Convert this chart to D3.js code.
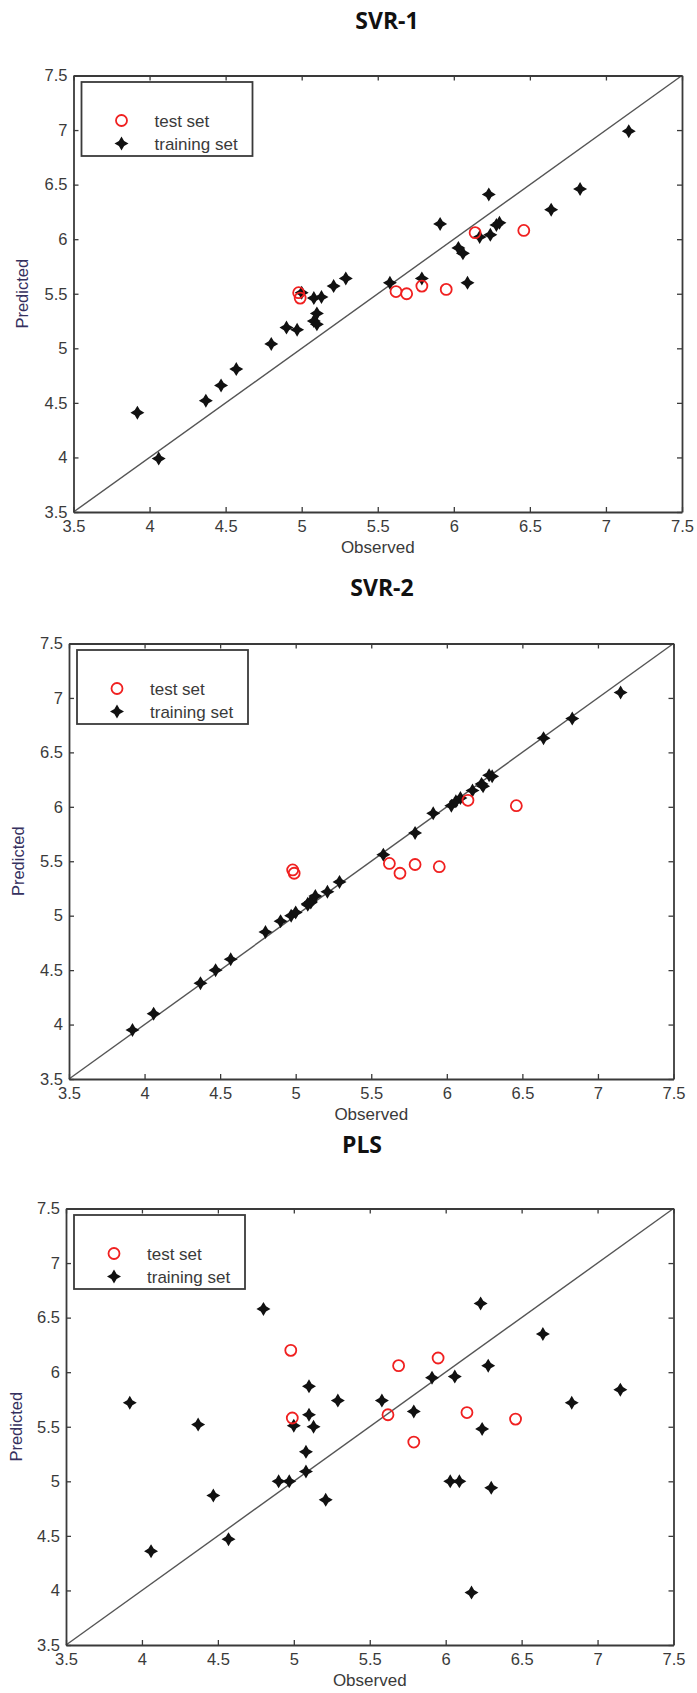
<!DOCTYPE html>
<html>
<head>
<meta charset="utf-8">
<script src="https://cdn.jsdelivr.net/npm/d3@7"></script>
<style>
  body { margin: 0; background: #fff; }
  svg { display: block; }
  .tick text { font-family: "Liberation Sans", Arial, sans-serif; font-size: 16.5px; fill: #3a3a3a; }
</style>
</head>
<body>
<script>
// observed activity of the training compounds (same for all three models)
var trainObserved = [3.92, 4.06, 4.37, 4.47, 4.57, 4.80, 4.90, 4.97, 5.00, 5.08,
                     5.08, 5.10, 5.10, 5.13, 5.21, 5.29, 5.58, 5.79, 5.91, 6.03,
                     6.06, 6.09, 6.17, 6.23, 6.24, 6.28, 6.30, 6.64, 6.83, 7.15];
var svr1TrainPred = [4.41, 3.99, 4.52, 4.66, 4.81, 5.04, 5.19, 5.17, 5.51, 5.46,
                     5.25, 5.32, 5.22, 5.47, 5.57, 5.64, 5.60, 5.64, 6.14, 5.92,
                     5.87, 5.60, 6.02, 6.41, 6.04, 6.13, 6.15, 6.27, 6.46, 6.99];
var svr2TrainPred = [3.95, 4.10, 4.38, 4.50, 4.60, 4.85, 4.95, 5.00, 5.03, 5.10,
                     5.11, 5.13, 5.12, 5.18, 5.22, 5.31, 5.56, 5.76, 5.94, 6.01,
                     6.05, 6.08, 6.15, 6.21, 6.19, 6.29, 6.28, 6.63, 6.81, 7.05];
var plsTrainPred  = [5.72, 4.36, 5.52, 4.87, 4.47, 6.58, 5.00, 5.00, 5.51, 5.27,
                     5.09, 5.61, 5.87, 5.50, 4.83, 5.74, 5.74, 5.64, 5.95, 5.00,
                     5.96, 5.00, 3.98, 6.63, 5.48, 6.06, 4.94, 6.35, 5.72, 5.84];

// test set
var testObserved = [4.98, 4.99, 5.62, 5.69, 5.79, 5.95, 6.14, 6.46];
var svr1TestPred = [5.51, 5.46, 5.52, 5.50, 5.57, 5.54, 6.06, 6.08];
var svr2TestPred = [5.42, 5.39, 5.48, 5.39, 5.47, 5.45, 6.06, 6.01];
var plsTestPred  = [6.20, 5.58, 5.61, 6.06, 5.36, 6.13, 5.63, 5.57];

var panelTitles = ["SVR-1", "SVR-2", "PLS"];
var tickValues = [3.5, 4, 4.5, 5, 5.5, 6, 6.5, 7, 7.5];
var legendLabels = ["test set", "training set"];

var w = 697;
var h = 1693;

// frame of each axes box, in page pixels
var panels = [
    {title: panelTitles[0], train: svr1TrainPred, test: svr1TestPred,
     left: 73.5, right: 682, top: 75.5, bottom: 512, titleX: 387, titleY: 21, ylabX: 22},
    {title: panelTitles[1], train: svr2TrainPred, test: svr2TestPred,
     left: 69, right: 673.5, top: 643.5, bottom: 1079, titleX: 382, titleY: 588, ylabX: 18},
    {title: panelTitles[2], train: plsTrainPred, test: plsTestPred,
     left: 66, right: 673.5, top: 1208.5, bottom: 1645, titleX: 362, titleY: 1145, ylabX: 16}
];

var svg = d3.select("body")
            .append("svg")
            .attr("width", w)
            .attr("height", h);

// four pointed star used for the training set
function starPath(r, k) {
    var pts = [[0, -r], [k, -k], [r, 0], [k, k], [0, r], [-k, k], [-r, 0], [-k, -k]];
    return "M" + pts.map(function(p) { return p.join(","); }).join("L") + "Z";
}
var star = starPath(7, 2.6);
var axisColor = "#3a3a3a";

panels.forEach(function(p) {
    var x = d3.scaleLinear().domain([3.5, 7.5]).range([p.left, p.right]);
    var y = d3.scaleLinear().domain([3.5, 7.5]).range([p.bottom, p.top]);
    var fmt = d3.format("~g");

    // title
    svg.append("text")
        .attr("x", p.titleX)
        .attr("y", p.titleY)
        .attr("dy", "0.36em")
        .attr("text-anchor", "middle")
        .attr("font-family", "'Open Sans', sans-serif")
        .attr("font-weight", "bold")
        .attr("font-size", 23)
        .attr("fill", "#111")
        .text(p.title);

    var g = svg.append("g");

    // y = x line
    g.append("line")
        .attr("x1", x(3.5)).attr("y1", y(3.5))
        .attr("x2", x(7.5)).attr("y2", y(7.5))
        .attr("stroke", "#555")
        .attr("stroke-width", 1.4);

    // axes, matlab style ticks pointing inwards on all sides
    var bottom = g.append("g")
        .attr("transform", "translate(0," + p.bottom + ")")
        .call(d3.axisBottom(x).tickValues(tickValues).tickFormat(fmt)
              .tickSizeInner(-5).tickSizeOuter(0).tickPadding(8));
    var left = g.append("g")
        .attr("transform", "translate(" + p.left + ",0)")
        .call(d3.axisLeft(y).tickValues(tickValues).tickFormat(fmt)
              .tickSizeInner(-5).tickSizeOuter(0).tickPadding(6));
    var top = g.append("g")
        .attr("transform", "translate(0," + p.top + ")")
        .call(d3.axisTop(x).tickValues(tickValues).tickFormat("")
              .tickSizeInner(-5).tickSizeOuter(0));
    var right = g.append("g")
        .attr("transform", "translate(" + p.right + ",0)")
        .call(d3.axisRight(y).tickValues(tickValues).tickFormat("")
              .tickSizeInner(-5).tickSizeOuter(0));

    [bottom, left, top, right].forEach(function(a) {
        a.select(".domain").attr("stroke", axisColor).attr("stroke-width", 1.8);
        a.selectAll(".tick line").attr("stroke", axisColor).attr("stroke-width", 1.3);
    });

    // axis labels
    svg.append("text")
        .attr("x", (p.left + p.right) / 2)
        .attr("y", p.bottom + 35)
        .attr("dy", "0.36em")
        .attr("text-anchor", "middle")
        .attr("font-family", "'Liberation Sans', Arial, sans-serif")
        .attr("font-size", 17)
        .attr("fill", "#3a3a3a")
        .text("Observed");

    svg.append("text")
        .attr("transform", "translate(" + p.ylabX + "," + ((p.top + p.bottom) / 2) + ") rotate(-90)")
        .attr("dy", "0.36em")
        .attr("text-anchor", "middle")
        .attr("font-family", "'Liberation Sans', Arial, sans-serif")
        .attr("font-size", 16.5)
        .attr("fill", "#35305e")
        .text("Predicted");

    // training set
    g.selectAll(".train")
        .data(trainObserved.map(function(o, i) { return [o, p.train[i]]; }))
        .enter()
        .append("path")
        .attr("class", "train")
        .attr("d", star)
        .attr("transform", function(d) { return "translate(" + x(d[0]) + "," + y(d[1]) + ")"; })
        .attr("fill", "#111");

    // test set
    g.selectAll(".test")
        .data(testObserved.map(function(o, i) { return [o, p.test[i]]; }))
        .enter()
        .append("circle")
        .attr("class", "test")
        .attr("cx", function(d) { return x(d[0]); })
        .attr("cy", function(d) { return y(d[1]); })
        .attr("r", 5.5)
        .attr("fill", "none")
        .attr("stroke", "#f02020")
        .attr("stroke-width", 1.8);

    // legend
    var lg = svg.append("g")
        .attr("transform", "translate(" + (p.left + 8) + "," + (p.top + 6.5) + ")");
    lg.append("rect")
        .attr("width", 171)
        .attr("height", 74)
        .attr("fill", "#fff")
        .attr("stroke", axisColor)
        .attr("stroke-width", 1.8);
    lg.append("circle")
        .attr("cx", 40).attr("cy", 38.5).attr("r", 5.5)
        .attr("fill", "none").attr("stroke", "#f02020").attr("stroke-width", 1.8);
    lg.append("path")
        .attr("d", star)
        .attr("transform", "translate(40,61.5)")
        .attr("fill", "#111");
    lg.selectAll(".lab")
        .data(legendLabels)
        .enter()
        .append("text")
        .attr("class", "lab")
        .attr("x", 73)
        .attr("y", function(d, i) { return 38.5 + i * 23; })
        .attr("dy", "0.36em")
        .attr("font-family", "'Liberation Sans', Arial, sans-serif")
        .attr("font-size", 17)
        .attr("fill", "#3a3a3a")
        .text(function(d) { return d; });
});
</script>
</body>
</html>
